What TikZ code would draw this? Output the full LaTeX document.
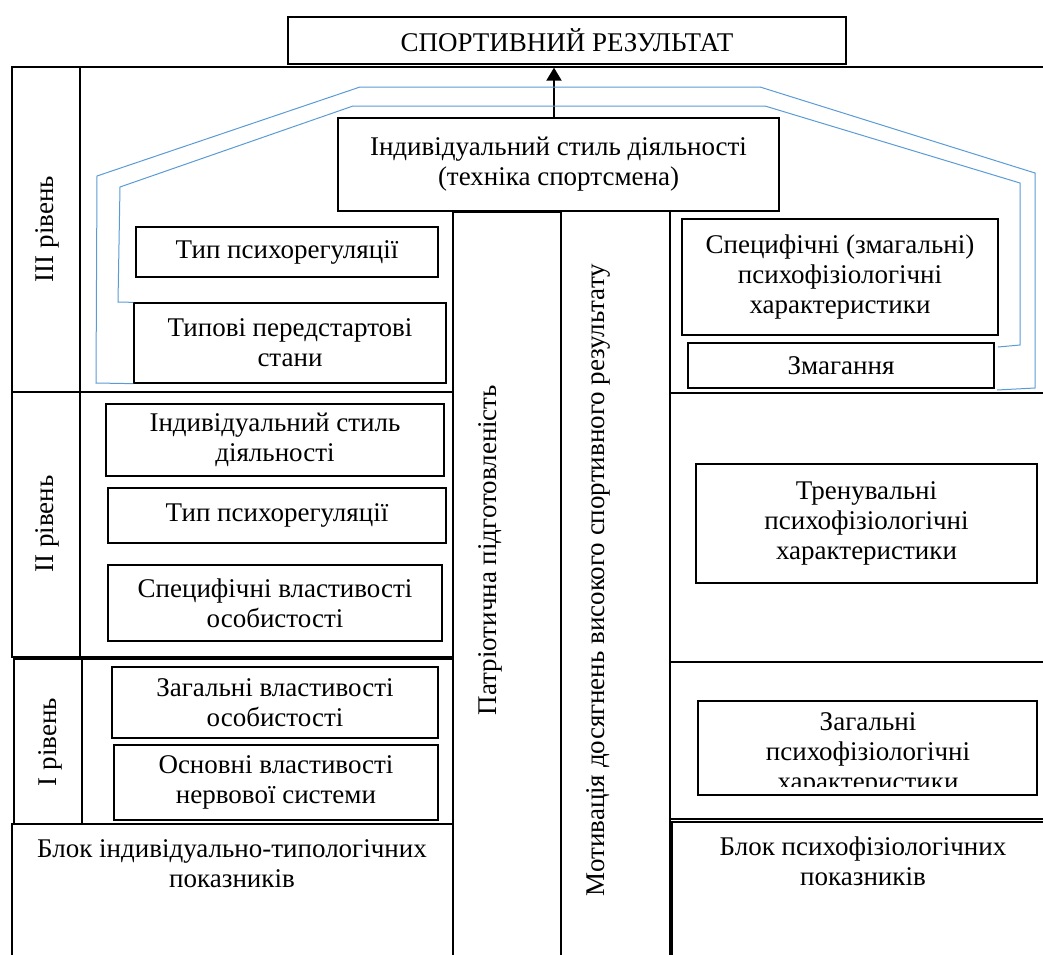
\documentclass[tikz,border=0pt]{standalone}
\usepackage{fontspec}
\setmainfont{Liberation Serif}
\usetikzlibrary{arrows.meta}
\definecolor{lineblue}{RGB}{91,155,213}
\tikzset{
	txt/.style = {align=center, font=\fontsize{27}{30}\selectfont},
	blk/.style = {txt, draw, line width=1.3pt, inner sep=0pt},
	sz/.style 2 args = {minimum width=#1, minimum height=#2},
	frame/.style = {line width=1.3pt},
	guide/.style = {draw=lineblue, line width=1pt},
}
\begin{document}
\begin{tikzpicture}[x=1pt, y=-1pt]
	\useasboundingbox (0,0) rectangle (1043,954);

	% frames
	\draw [frame] (80,67) -- (1050,67);
	\draw [frame] (12,67) rectangle (80,392);
	\draw [frame] (80,392) -- (453,392);
	\draw [frame] (12,392) rectangle (453,657);
	\draw [frame] (80,392) -- (80,657);
	\draw [frame] (14,659) rectangle (453,824);
	\draw [frame] (82,659) -- (82,824);
	\draw [frame] (12,824) rectangle (453,960);
	\draw [frame] (453,212) rectangle (561,960);
	\draw [frame] (561,211) rectangle (670,960);
	\draw [frame] (670,393) -- (1050,393);
	\draw [frame] (670,662) -- (1050,662);
	\draw [frame] (670,819) -- (1050,819);
	\draw [frame] (672,822) rectangle (1050,960);

	% boxes
	\node [blk, sz={558pt}{47pt}] (res) at (567,40.5) {СПОРТИВНИЙ РЕЗУЛЬТАТ};
	\node [blk, sz={441pt}{93pt}] (tech) at (558.5,164.5) {Індивідуальний стиль діяльності\\(техніка спортсмена)};
	\node [blk, sz={302pt}{50pt}] (psy3) at (287,252) {Тип психорегуляції};
	\node [blk, sz={312pt}{80pt}] (prest) at (290,343) {Типові передстартові\\стани};
	\node [blk, sz={316pt}{116pt}] (spec3) at (840,277) {Специфічні (змагальні)\\психофізіологічні\\характеристики};
	\node [blk, sz={306pt}{45pt}] (comp) at (841,365.5) {Змагання};
	\node [blk, sz={338pt}{72pt}] (style2) at (275,440) {Індивідуальний стиль\\діяльності};
	\node [blk, sz={338pt}{55pt}] (psy2) at (277,515.5) {Тип психорегуляції};
	\node [blk, sz={334pt}{76pt}] (pers2) at (275,603) {Специфічні властивості\\особистості};
	\node [blk, sz={326pt}{71pt}] (pers1) at (275,702.5) {Загальні властивості\\особистості};
	\node [blk, sz={324pt}{75pt}] (nerv1) at (276,782.5) {Основні властивості\\нервової системи};
	\node [blk, sz={341pt}{119pt}] (train) at (866.5,523.5) {Тренувальні\\психофізіологічні\\характеристики};
	\node [blk, sz={339pt}{94pt}] (genpf) at (867.5,748) {};
	\begin{scope}
		\clip (698,701) rectangle (1037,786);
		\node [txt] (genpftxt) at (868,754) {Загальні\\психофізіологічні\\характеристики};
	\end{scope}

	% labels
	\node [txt, rotate=90] (lv3) at (47,229) {III рівень};
	\node [txt, rotate=90] (lv2) at (47,524) {II рівень};
	\node [txt, rotate=90] (lv1) at (50,742) {I рівень};
	\node [txt, rotate=90] (patr) at (490,550) {Патріотична підготовленість};
	\node [txt, rotate=90] (motiv) at (598,580) {Мотивація досягнень високого спортивного результату};
	\node [txt] (blk1) at (232,864) {Блок індивідуально-типологічних\\показників};
	\node [txt] (blk2) at (863,861) {Блок психофізіологічних\\показників};

	% arrow
	\draw [line width=2pt, -{Triangle[length=13pt,width=15pt]}] ([xshift=-4.5pt]tech.north) -- ([xshift=-13pt,yshift=-3pt]res.south);

	% blue lines
	\draw [guide] (prest.south west) -- (96,383) -- (97,176) -- (360,87) -- (760,87) -- (1035,173) -- (1035,388) -- (997,390);
	\draw [guide] (prest.north west) -- (118,302) -- (120,187) -- (353,106) -- (765,106) -- (1020,183) -- (1020,345) -- (998,347);
\end{tikzpicture}
\end{document}
